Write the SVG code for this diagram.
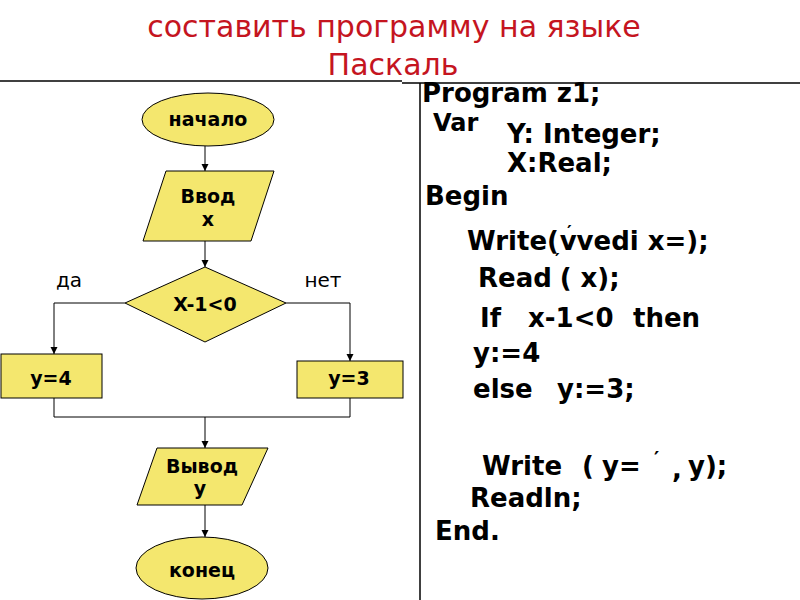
<svg xmlns="http://www.w3.org/2000/svg" width="800" height="600" viewBox="0 0 800 600">
<defs>
<marker id="arr" markerWidth="8" markerHeight="8" refX="7" refY="4" orient="auto" markerUnits="userSpaceOnUse">
<path d="M0,0.5 L7,4 L0,7.5 Z" fill="#000"/>
</marker>
<style>
.title{font-family:"DejaVu Sans","Liberation Sans",sans-serif;font-size:30px;fill:#c5151f;text-anchor:middle}
.shape{fill:#f4e76e;stroke:#000;stroke-width:1}
.lbl{font-family:"DejaVu Sans","Liberation Sans",sans-serif;font-size:19px;font-weight:bold;fill:#000;text-anchor:middle}
.br{font-family:"DejaVu Sans","Liberation Sans",sans-serif;font-size:20px;fill:#000;text-anchor:middle}
.code{font-family:"DejaVu Sans","Liberation Sans",sans-serif;font-size:26px;font-weight:bold;fill:#000}
.pr{font-size:18px}
.conn{fill:none;stroke:#000;stroke-width:1}
.rule{stroke:#000;stroke-width:1.5;fill:none}
</style>
</defs>
<rect width="800" height="600" fill="#fff"/>
<g id="title">
<text class="title" x="394" y="37">составить программу на языке</text>
<text class="title" x="393" y="75">Паскаль</text>
</g>
<g id="frame">
<line class="rule" x1="0" y1="81" x2="402" y2="81"/>
<line class="rule" x1="402" y1="83" x2="800" y2="83"/>
<line class="rule" x1="420" y1="83" x2="420" y2="600"/>
</g>
<g id="connectors">
<line class="conn" x1="205" y1="146" x2="205" y2="171" marker-end="url(#arr)"/>
<line class="conn" x1="205" y1="241" x2="205" y2="267" marker-end="url(#arr)"/>
<polyline class="conn" points="125,303 54,303 54,354" marker-end="url(#arr)"/>
<polyline class="conn" points="286,303 350,303 350,361" marker-end="url(#arr)"/>
<polyline class="conn" points="54,398 54,417 350,417 350,398"/>
<line class="conn" x1="205" y1="417" x2="205" y2="448" marker-end="url(#arr)"/>
<line class="conn" x1="205" y1="505" x2="205" y2="537" marker-end="url(#arr)"/>
<text class="br" x="69" y="287">да</text>
<text class="br" x="323" y="287">нет</text>
</g>
<g id="start">
<ellipse class="shape" cx="208" cy="119.5" rx="66" ry="26.5"/>
<text class="lbl" x="208" y="126">начало</text>
</g>
<g id="input">
<polygon class="shape" points="166,171 274,171 251,241 143,241"/>
<text class="lbl" x="208" y="203">Ввод</text>
<text class="lbl" x="208" y="226">x</text>
</g>
<g id="decision">
<polygon class="shape" points="205,267 286,303 205,342 125,303"/>
<text class="lbl" x="205" y="311">X-1&lt;0</text>
</g>
<g id="y4">
<rect class="shape" x="1" y="354" width="101" height="44"/>
<text class="lbl" x="51" y="385">y=4</text>
</g>
<g id="y3">
<rect class="shape" x="297" y="361" width="106" height="37"/>
<text class="lbl" x="349" y="385">y=3</text>
</g>
<g id="output">
<polygon class="shape" points="157,448 268,448 242,505 137,505"/>
<text class="lbl" x="202" y="473">Вывод</text>
<text class="lbl" x="200" y="495">у</text>
</g>
<g id="end">
<ellipse class="shape" cx="202" cy="568" rx="66" ry="31"/>
<text class="lbl" x="202" y="577">конец</text>
</g>
<g id="code">
<text class="code" x="422" y="102">Program z1;</text>
<text class="code" x="433" y="131" style="font-size:24px">Var</text>
<text class="code" x="507" y="143">Y: Integer;</text>
<text class="code" x="507" y="172">X:Real;</text>
<text class="code" x="425" y="205">Begin</text>
<text class="code" x="467" y="250">Write(<tspan class="pr" dx="8" dy="-12">′</tspan><tspan dx="-12" dy="12">vvedi x=);</tspan></text>
<text class="code" x="478" y="287">Read <tspan class="pr" dx="-6" dy="-21">′</tspan><tspan dx="0" dy="21">( x);</tspan></text>
<text class="code" x="480" y="327">If</text>
<text class="code" x="528" y="327">x-1&lt;0</text>
<text class="code" x="633" y="327">then</text>
<text class="code" x="473" y="362">y:=4</text>
<text class="code" x="473" y="398">else</text>
<text class="code" x="557" y="398">y:=3;</text>
<text class="code" x="482" y="475">Write</text>
<text class="code" x="582" y="475">(</text>
<text class="code" x="602" y="475">y=</text>
<text class="code" x="654" y="465" style="font-size:20px">′</text>
<text class="code" x="672" y="478">,</text>
<text class="code" x="688" y="475">y);</text>
<text class="code" x="470" y="507">Readln;</text>
<text class="code" x="435" y="540">End.</text>
</g>
</svg>
